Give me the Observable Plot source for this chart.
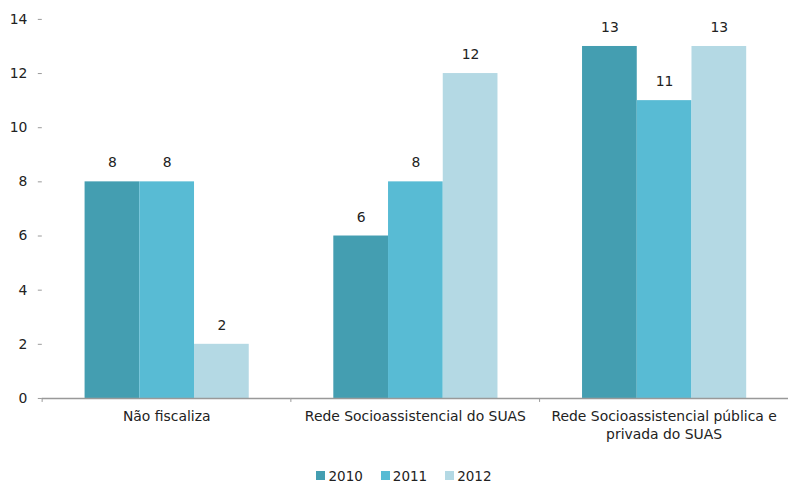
<!DOCTYPE html>
<html>
<head>
<meta charset="utf-8">
<script src="https://cdn.jsdelivr.net/npm/d3@7"></script>
<script src="https://cdn.jsdelivr.net/npm/@observablehq/plot@0.6"></script>
<style>
  body { margin: 0; background: #fff; font-family: "DejaVu Sans", sans-serif; overflow: hidden; }
  #legend { display: flex; justify-content: center; gap: 18px; font-size: 13.5px; color: #222; margin-top: 15px; padding-left: 20px; }
  #legend span.sw { display: inline-block; width: 9px; height: 9px; margin-right: 3px; }
  #legend div { display: flex; align-items: center; }
</style>
</head>
<body>
<div id="chart"></div>
<div id="legend"></div>
<script>
const categories = ["Não fiscaliza", "Rede Socioassistencial do SUAS", "Rede Socioassistencial pública e privada do SUAS"];
const labels = ["Não fiscaliza", "Rede Socioassistencial do SUAS", "Rede Socioassistencial pública e\nprivada do SUAS"];
const years = ["2010", "2011", "2012"];
const v2010 = [8, 6, 13];
const v2011 = [8, 8, 11];
const v2012 = [2, 12, 13];
const colors = ["#449eb1", "#58bbd4", "#b4d9e4"];
const yTicks = [0, 2, 4, 6, 8, 10, 12, 14];

const series = [v2010, v2011, v2012];
const data = [];
categories.forEach((c, i) => years.forEach((y, j) => data.push({cat: c, year: y, value: series[j][i]})));

const W = 792, ML = 41, MR = 0;
const fw = (W - ML - MR) / 3;

const chart = Plot.plot({
  width: W,
  height: 455,
  marginLeft: ML,
  marginRight: MR,
  marginTop: 19,
  marginBottom: 55,
  style: {fontFamily: "'DejaVu Sans', sans-serif", fontSize: "14px", color: "#222"},
  fx: {domain: categories, padding: 0, label: null},
  x: {domain: years, paddingInner: 0, paddingOuter: 0.74, axis: null},
  y: {domain: [0, 14], label: null},
  color: {domain: years, range: colors},
  marks: [
    Plot.axisY({ticks: yTicks, tickSize: 4, tickPadding: 11, stroke: "#999", fill: "#222", line: true, label: null, fontSize: 14}),
    Plot.axisFx({anchor: "bottom", tickSize: 0, tickPadding: 10, tickFormat: (d) => labels[categories.indexOf(d)], lineHeight: 1.3, label: null, fill: "#222", fontSize: 14}),
    Plot.axisFx({anchor: "bottom", tickSize: 4, tickFormat: null, dx: -fw / 2, stroke: "#999", label: null}),
    Plot.barY(data, {fx: "cat", x: "year", y: "value", fill: "year", inset: 0}),
    Plot.text(data, {fx: "cat", x: "year", y: "value", text: (d) => String(d.value), dy: -19, fill: "#222", fontSize: 14}),
    Plot.ruleY([0], {stroke: "#999", strokeWidth: 1.5})
  ]
});
document.getElementById("chart").append(chart);

const legend = document.getElementById("legend");
years.forEach((y, j) => {
  const item = document.createElement("div");
  item.innerHTML = `<span class="sw" style="background:${colors[j]}"></span>${y}`;
  legend.append(item);
});
</script>
</body>
</html>
